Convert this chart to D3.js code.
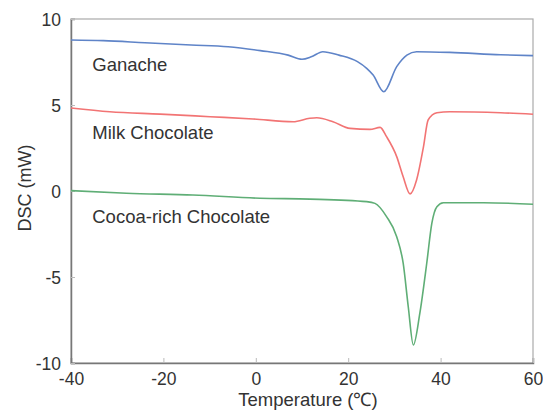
<!DOCTYPE html>
<meta charset="utf-8">
<style>
    body { margin: 0; background: #fff; }
    text { font-family: "Liberation Sans", Arial, sans-serif; fill: #333; }
</style>
<script src="https://cdn.jsdelivr.net/npm/d3@7"></script>
<body>
<script>
// values
var xTicks = [-40, -20, 0, 20, 40, 60];
var yTicks = [-10, -5, 0, 5, 10];

var ganacheT = [-40, -33, -24, -14, -6, 1, 7, 10, 12, 14.5, 18, 22, 24, 25.4, 27.7, 30.5, 32.7, 34.8, 42, 53, 60];
var ganacheV = [8.78, 8.74, 8.62, 8.49, 8.39, 8.16, 7.9, 7.66, 7.8, 8.1, 7.9, 7.52, 7.13, 6.74, 5.77, 7.23, 7.9, 8.1, 8.06, 7.92, 7.87];

var milkT = [-40, -31.6, -20.7, -9.9, -0.6, 8.1, 11.7, 13.2, 16.7, 20.4, 24.7, 26.9, 28.3, 30.5, 31.9, 33.4, 34.8, 36.3, 37.3, 39.2, 42, 53, 60];
var milkV = [4.83, 4.61, 4.47, 4.32, 4.19, 4.03, 4.23, 4.26, 4.03, 3.64, 3.58, 3.70, 3.16, 2.0, 0.83, -0.17, 0.64, 2.58, 4.13, 4.55, 4.61, 4.55, 4.46];

var cocoaT = [-40, -28, -13.6, 0.9, 11.7, 24, 25.8, 28.3, 30.5, 31.9, 33, 34.1, 35.5, 37, 38.1, 39.2, 40.6, 49.3, 60];
var cocoaV = [0.02, -0.13, -0.23, -0.42, -0.47, -0.62, -0.72, -1.49, -2.66, -4.2, -6.73, -8.95, -7.11, -4.2, -1.88, -0.91, -0.68, -0.68, -0.77];

var seriesNames = ["Ganache", "Milk Chocolate", "Cocoa-rich Chocolate"];
var seriesColors = ["#5f84c8", "#f27474", "#5fae76"];
var labelY = [7.0, 3.0, -1.85]; // label baseline in data units

var width = 543, height = 418;
var margin = {top: 19, right: 10, bottom: 55, left: 71};

var x = d3.scaleLinear().domain([-40, 60]).range([margin.left, width - margin.right]);
var y = d3.scaleLinear().domain([-10, 10]).range([height - margin.bottom, margin.top]);

var svg = d3.select("body").append("svg")
    .attr("width", width)
    .attr("height", height);

// frame
svg.append("rect")
    .attr("x", x(-40)).attr("y", y(10))
    .attr("width", x(60) - x(-40)).attr("height", y(-10) - y(10))
    .attr("fill", "none").attr("stroke", "#aaa").attr("stroke-width", 1.2);

// inner ticks, plain hyphen for negatives like the original
var fmt = function(d) { return String(d); };
var xAxis = svg.append("g")
    .attr("transform", "translate(0," + y(-10) + ")")
    .call(d3.axisBottom(x).tickValues(xTicks).tickSize(-5).tickPadding(13).tickFormat(fmt));
var yAxis = svg.append("g")
    .attr("transform", "translate(" + x(-40) + ",0)")
    .call(d3.axisLeft(y).tickValues(yTicks).tickSize(-4).tickPadding(10).tickFormat(fmt));

[xAxis, yAxis].forEach(function(a) {
    a.select(".domain").attr("stroke", "#777").attr("stroke-width", 1.5);
    a.selectAll(".tick line").attr("stroke", "#bbb");
    a.selectAll("text").attr("font-size", 17.5).attr("fill", "#333")
        .attr("font-family", "'Liberation Sans', Arial, sans-serif");
});
xAxis.selectAll("text").attr("dy", "0.5em");
yAxis.selectAll("text").attr("dy", "0.35em");

var line = d3.line()
    .x(function(d) { return x(d[0]); })
    .y(function(d) { return y(d[1]); })
    .curve(d3.curveMonotoneX);

var allT = [ganacheT, milkT, cocoaT];
var allV = [ganacheV, milkV, cocoaV];

for (var i = 0; i < 3; i++) {
    var pts = allT[i].map(function(t, j) { return [t, allV[i][j]]; });
    svg.append("path")
        .datum(pts)
        .attr("d", line)
        .attr("fill", "none")
        .attr("stroke", seriesColors[i])
        .attr("stroke-width", 1.6);

    svg.append("text")
        .attr("x", x(-35.4))
        .attr("y", y(labelY[i]))
        .attr("font-size", 18.5)
        .text(seriesNames[i]);
}

// axis titles
svg.append("text")
    .attr("x", (x(-40) + x(60)) / 2 + 6)
    .attr("y", 406)
    .attr("text-anchor", "middle")
    .attr("font-size", 18.5)
    .text("Temperature (℃)");

svg.append("text")
    .attr("transform", "translate(31," + ((y(10) + y(-10)) / 2 - 3) + ") rotate(-90)")
    .attr("text-anchor", "middle")
    .attr("font-size", 18)
    .text("DSC (mW)");
</script>
</body>
